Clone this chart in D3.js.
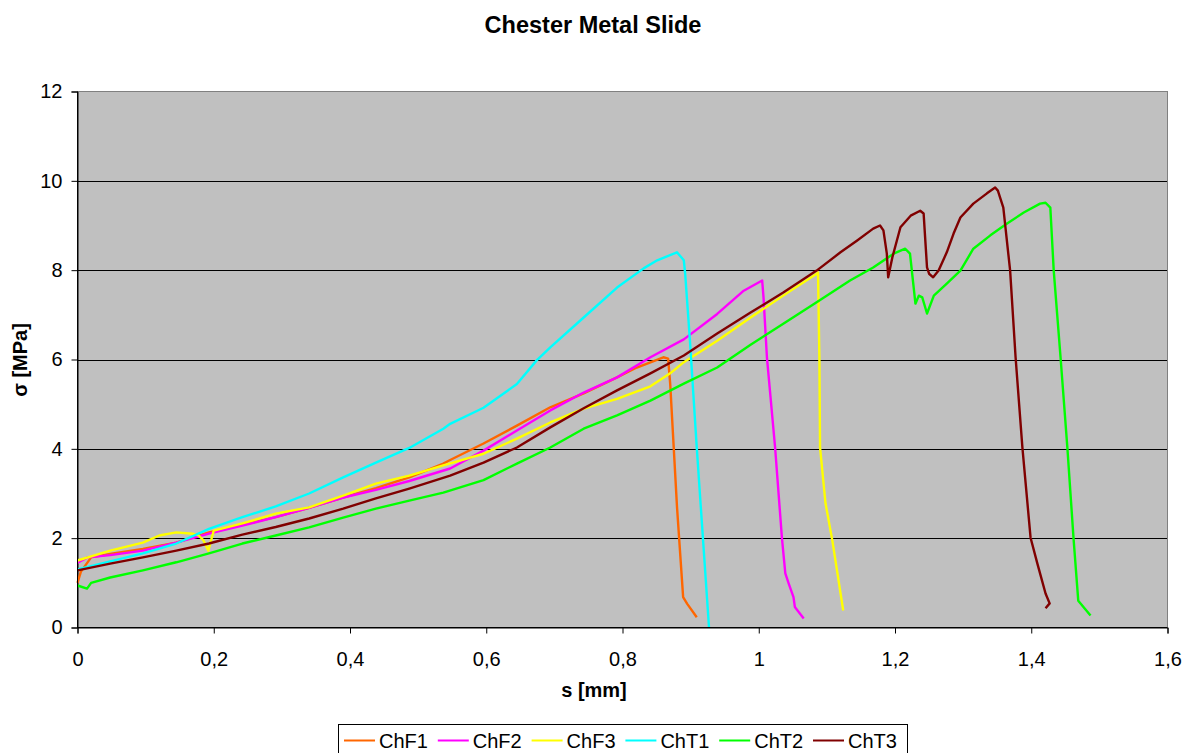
<!DOCTYPE html>
<html>
<head>
<meta charset="utf-8">
<script src="https://cdn.jsdelivr.net/npm/d3@7"></script>
<style>
  html, body { margin: 0; padding: 0; background: #fff; }
  svg { display: block; }
  text { font-family: "Liberation Sans", Arial, sans-serif; fill: #000; }
</style>
</head>
<body>
<svg id="chart" width="1185" height="753"></svg>
<script>
// ---- data (s [mm], σ [MPa]) ----
const seriesNames = ["ChF1", "ChF2", "ChF3", "ChT1", "ChT2", "ChT3"];
const seriesColors = ["#FF6600", "#FF00FF", "#FFFF00", "#00FFFF", "#00FF00", "#800000"];
const xTicks = [0, 0.2, 0.4, 0.6, 0.8, 1, 1.2, 1.4, 1.6];
const yTicks = [0, 2, 4, 6, 8, 10, 12];

const chF1 = [[0,1.0],[0.005,1.25],[0.02,1.57],[0.05,1.65],[0.096,1.76],[0.145,1.9],[0.193,2.13],[0.242,2.3],[0.291,2.47],[0.34,2.68],[0.39,2.91],[0.438,3.12],[0.487,3.36],[0.537,3.67],[0.547,3.75],[0.596,4.12],[0.645,4.52],[0.694,4.93],[0.743,5.24],[0.792,5.6],[0.821,5.82],[0.86,6.05],[0.867,6.02],[0.870,5.46],[0.88,2.7],[0.889,0.68],[0.895,0.53],[0.909,0.23]];
const chF2 = [[0,1.45],[0.015,1.57],[0.048,1.62],[0.096,1.72],[0.145,1.9],[0.193,2.1],[0.242,2.28],[0.291,2.47],[0.34,2.68],[0.39,2.91],[0.438,3.08],[0.487,3.28],[0.547,3.56],[0.596,3.96],[0.645,4.41],[0.694,4.86],[0.743,5.26],[0.792,5.6],[0.841,6.05],[0.890,6.45],[0.939,7.02],[0.978,7.54],[1.005,7.77],[1.007,7.39],[1.012,6.05],[1.024,4.03],[1.034,2.01],[1.039,1.21],[1.044,0.98],[1.051,0.68],[1.053,0.46],[1.066,0.2]];
const chF3 = [[0,1.5],[0.048,1.72],[0.096,1.9],[0.12,2.06],[0.145,2.13],[0.169,2.1],[0.178,2.06],[0.185,1.95],[0.192,1.72],[0.2,2.17],[0.242,2.33],[0.291,2.55],[0.34,2.69],[0.39,2.95],[0.438,3.22],[0.487,3.4],[0.537,3.63],[0.596,3.89],[0.645,4.23],[0.694,4.59],[0.743,4.9],[0.792,5.12],[0.841,5.4],[0.870,5.69],[0.890,5.94],[0.939,6.42],[0.988,6.94],[1.036,7.43],[1.085,7.92],[1.087,7.95],[1.089,6.05],[1.090,4.03],[1.098,2.78],[1.108,1.95],[1.124,0.38]];
const chT1 = [[0,1.3],[0.048,1.48],[0.096,1.66],[0.145,1.88],[0.193,2.21],[0.242,2.47],[0.291,2.71],[0.34,3.0],[0.39,3.36],[0.438,3.69],[0.487,4.02],[0.537,4.45],[0.547,4.56],[0.596,4.92],[0.645,5.45],[0.674,5.98],[0.694,6.27],[0.743,6.94],[0.792,7.61],[0.831,8.04],[0.851,8.22],[0.880,8.40],[0.890,8.22],[0.892,7.92],[0.899,6.42],[0.909,4.03],[0.927,0.0]];
const chT2 = [[0,0.94],[0.014,0.87],[0.02,1.0],[0.048,1.12],[0.096,1.28],[0.145,1.46],[0.193,1.66],[0.242,1.88],[0.291,2.06],[0.34,2.24],[0.39,2.46],[0.438,2.66],[0.487,2.84],[0.537,3.02],[0.596,3.3],[0.645,3.67],[0.694,4.03],[0.743,4.45],[0.792,4.75],[0.841,5.08],[0.890,5.46],[0.939,5.82],[0.988,6.33],[1.036,6.8],[1.085,7.28],[1.134,7.77],[1.168,8.06],[1.198,8.37],[1.215,8.48],[1.222,8.37],[1.23,7.25],[1.235,7.43],[1.24,7.39],[1.247,7.03],[1.257,7.43],[1.276,7.7],[1.296,7.99],[1.315,8.48],[1.34,8.78],[1.364,9.04],[1.389,9.29],[1.413,9.49],[1.421,9.51],[1.428,9.4],[1.433,7.99],[1.443,6.05],[1.453,4.03],[1.462,2.01],[1.469,0.6],[1.487,0.27]];
const chT3 = [[0,1.28],[0.048,1.43],[0.096,1.57],[0.145,1.72],[0.193,1.88],[0.242,2.08],[0.291,2.25],[0.34,2.44],[0.39,2.66],[0.438,2.89],[0.487,3.11],[0.547,3.4],[0.596,3.69],[0.645,4.03],[0.694,4.48],[0.743,4.91],[0.792,5.31],[0.841,5.69],[0.890,6.09],[0.939,6.58],[0.988,7.05],[1.036,7.5],[1.085,7.99],[1.12,8.4],[1.144,8.66],[1.168,8.93],[1.178,9.0],[1.183,8.89],[1.188,8.37],[1.19,7.84],[1.196,8.28],[1.208,8.96],[1.223,9.22],[1.237,9.33],[1.242,9.27],[1.247,8.06],[1.25,7.92],[1.256,7.84],[1.264,7.99],[1.276,8.4],[1.286,8.82],[1.296,9.18],[1.315,9.49],[1.335,9.72],[1.347,9.85],[1.351,9.78],[1.359,9.4],[1.369,7.99],[1.377,6.05],[1.387,4.03],[1.399,2.01],[1.409,1.43],[1.421,0.76],[1.427,0.54],[1.421,0.43]];

const seriesData = [chF1, chF2, chF3, chT1, chT2, chT3];

// ---- layout ----
const svg = d3.select("#chart");
const plot = { left: 77.5, right: 1167.5, top: 91.5, bottom: 627.5 };
const FONT = "'Liberation Sans', Arial, sans-serif";

const x = d3.scaleLinear().domain([0, 1.6]).range([plot.left, plot.right]);
const y = d3.scaleLinear().domain([0, 12]).range([plot.bottom, plot.top]);

// plot background
svg.append("rect")
  .attr("x", plot.left).attr("y", plot.top)
  .attr("width", plot.right - plot.left).attr("height", plot.bottom - plot.top)
  .attr("fill", "#C0C0C0")
  .attr("stroke", "#808080").attr("stroke-width", 1);

// gridlines
svg.append("g").selectAll("line")
  .data(yTicks.filter(v => v > 0 && v < 12))
  .join("line")
  .attr("x1", plot.left).attr("x2", plot.right)
  .attr("y1", d => Math.round(y(d)) + 0.5).attr("y2", d => Math.round(y(d)) + 0.5)
  .attr("stroke", "#000").attr("stroke-width", 1);

const fmt = v => String(+v.toFixed(1)).replace(".", ",");

// y axis
const yAxis = svg.append("g")
  .attr("transform", `translate(${plot.left},0)`)
  .call(d3.axisLeft(y).tickValues(yTicks).tickSize(6).tickPadding(9).tickFormat(fmt));
yAxis.select(".domain").attr("stroke", "#000");
yAxis.selectAll(".tick line").attr("stroke", "#000");
yAxis.selectAll(".tick text").style("font-size", "20px").style("font-family", FONT).attr("fill", "#000");

// x axis
const xAxis = svg.append("g")
  .attr("transform", `translate(0,${plot.bottom})`)
  .call(d3.axisBottom(x).tickValues(xTicks).tickSize(6).tickPadding(18).tickFormat(fmt));
xAxis.select(".domain").attr("stroke", "#000");
xAxis.selectAll(".tick line").attr("stroke", "#000");
xAxis.selectAll(".tick text").style("font-size", "20px").style("font-family", FONT).attr("fill", "#000");

// right & top border in grey
svg.append("line").attr("x1", plot.left).attr("x2", plot.right).attr("y1", plot.top).attr("y2", plot.top).attr("stroke", "#808080");
svg.append("line").attr("x1", plot.right).attr("x2", plot.right).attr("y1", plot.top).attr("y2", plot.bottom).attr("stroke", "#808080");

// series lines
const line = d3.line().x(d => x(d[0])).y(d => y(d[1]));
const gLines = svg.append("g");
seriesData.forEach((data, i) => {
  gLines.append("path")
    .datum(data)
    .attr("d", line)
    .attr("fill", "none")
    .attr("stroke", seriesColors[i])
    .attr("stroke-width", 2.4)
    .attr("stroke-linejoin", "round");
});

// left & bottom axis lines on top
svg.append("line").attr("x1", plot.left).attr("x2", plot.left).attr("y1", plot.top).attr("y2", plot.bottom).attr("stroke", "#000");
svg.append("line").attr("x1", plot.left).attr("x2", plot.right).attr("y1", plot.bottom).attr("y2", plot.bottom).attr("stroke", "#000");

// title
svg.append("text")
  .attr("x", 593).attr("y", 33)
  .attr("text-anchor", "middle")
  .style("font-size", "23.5px").style("font-weight", "bold")
  .text("Chester Metal Slide");

// axis titles
svg.append("text")
  .attr("x", 594).attr("y", 697)
  .attr("text-anchor", "middle")
  .style("font-size", "20px").style("font-weight", "bold")
  .text("s [mm]");

svg.append("text")
  .attr("transform", "translate(27,360) rotate(-90)")
  .attr("text-anchor", "middle")
  .style("font-size", "20px").style("font-weight", "bold")
  .text("σ [MPa]");

// legend
const legend = svg.append("g");
legend.append("rect")
  .attr("x", 338.5).attr("y", 724.5)
  .attr("width", 569).attr("height", 40)
  .attr("fill", "#fff").attr("stroke", "#000");
const itemW = 93.8;
seriesNames.forEach((name, i) => {
  const x0 = 344 + i * itemW;
  legend.append("line")
    .attr("x1", x0).attr("x2", x0 + 31)
    .attr("y1", 740.5).attr("y2", 740.5)
    .attr("stroke", seriesColors[i]).attr("stroke-width", 2);
  legend.append("text")
    .attr("x", x0 + 35).attr("y", 748)
    .style("font-size", "20px")
    .text(name);
});
</script>
</body>
</html>
